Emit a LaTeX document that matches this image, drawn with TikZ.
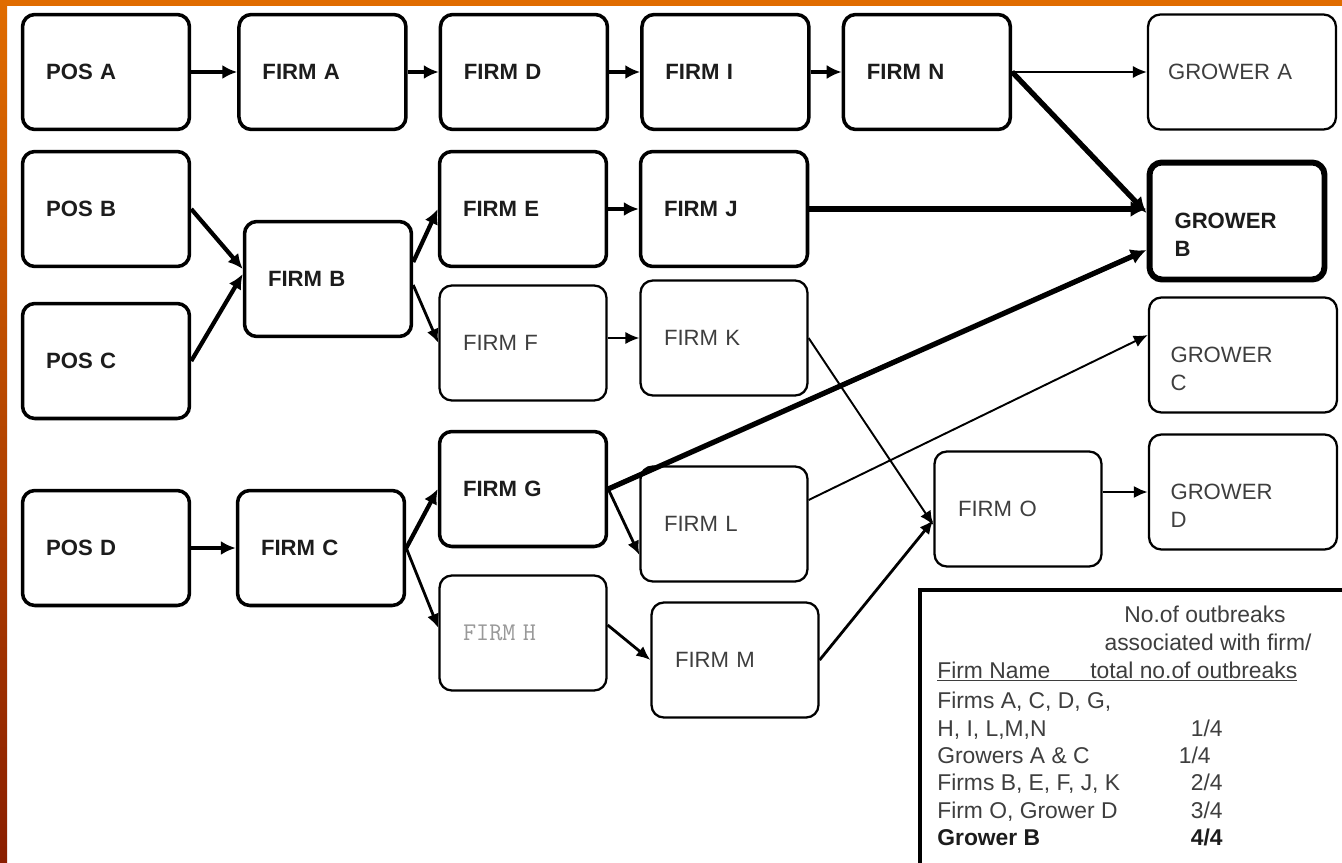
\documentclass[tikz,border=0pt]{standalone}
\usepackage{fontspec}
\setmainfont{Liberation Sans}
\usetikzlibrary{positioning,arrows.meta}
\definecolor{bandorange}{RGB}{224,108,0}
\definecolor{bandred}{RGB}{138,30,0}
\definecolor{boldtxt}{RGB}{28,28,28}
\definecolor{thintxt}{RGB}{62,62,62}
\begin{document}
\begin{tikzpicture}[x=0.02cm, y=-0.02cm, font=\fontsize{12.6}{16}\selectfont,
  main/.style = {draw, rounded corners=7pt, minimum width=3.34cm, minimum height=2.3cm, text width=2.4cm, align=left},
  heavy/.style = {main, line width=2pt, font=\fontsize{12.6}{16}\selectfont\bfseries, text=boldtxt},
  light/.style = {main, line width=1.3pt, text=thintxt},
  best/.style = {heavy, line width=3.4pt, minimum width=3.5cm, minimum height=2.34cm, text width=2.5cm},
  growerbox/.style = {light, minimum width=3.76cm, text width=2.9cm},
  link/.style = {-{Latex[length=8pt,width=7pt]}, line width=1.1pt},
  midlink/.style = {-{Latex[length=8pt,width=7pt]}, line width=1.6pt},
  strong/.style = {-{Latex[length=8.5pt,width=8pt]}, line width=2.4pt},
  fat/.style = {-{Latex[length=9pt,width=9pt]}, line width=3pt},
  legtxt/.style = {anchor=base west, inner sep=0pt, text=thintxt, font=\fontsize{13}{16}\selectfont}]
\useasboundingbox (0,0) rectangle (1342,862);
\fill[white] (0,0) rectangle (1342,862);
\fill[bandorange] (0,0) rectangle (1342,6);
\shade[top color=bandorange, bottom color=bandred] (0,0) rectangle (7,862);

\node[heavy] (posA) at (106,72) {POS A};
\node[heavy] (firmA) [right=0.92cm of posA] {FIRM A};
\node[heavy] (firmD) [right=0.62cm of firmA] {FIRM D};
\node[heavy] (firmI) [right=0.62cm of firmD] {FIRM I};
\node[heavy] (firmN) [right=0.62cm of firmI] {FIRM N};
\node[growerbox, text width=2.96cm] (growA) at (1242,72) {GROWER A};

\node[heavy] (posB) at (106,209) {POS B};
\node[heavy] (firmB) at (328,279) {FIRM B};
\node[heavy] (posC) at (106,361) {POS C};
\node[heavy] (firmE) at (523,209) {FIRM E};
\node[heavy] (firmJ) at (724,209) {FIRM J};
\node[best] (growB) at (1237,221) {\rule{0pt}{0.85cm}GROWER\\B};

\node[light] (firmF) at (523,343) {FIRM F};
\node[light] (firmK) at (724,338) {FIRM K};
\node[growerbox] (growC) at (1243,355) {\rule{0pt}{0.85cm}GROWER\\C};

\node[heavy] (firmG) at (523,489) {FIRM G};
\node[light] (firmL) at (724,524) {FIRM L};
\node[light] (firmO) at (1018,509) {FIRM O};
\node[growerbox] (growD) at (1243,492) {\rule{0pt}{0.85cm}GROWER\\D};

\node[heavy] (posD) at (106,548) {POS D};
\node[heavy] (firmC) at (321,548) {FIRM C};
\node[light, text=black!40] (firmH) at (523,633) {\fontsize{14.5}{16}\selectfont\ttfamily FIRM H};
\node[light] (firmM) at (735,660) {FIRM M};

\draw[strong] (posA) -- (firmA);
\draw[strong] (firmA) -- (firmD);
\draw[strong] (firmD) -- (firmI);
\draw[strong] (firmI) -- (firmN);
\draw[link] (firmN.east) -- (firmN.east -| growA.west);
\draw[fat] (firmN.east) -- ([yshift=0.16cm]growB.west);
\draw[strong] (posB.east) -- ([yshift=0.2cm]firmB.west);
\draw[strong] (posC.east) -- ([yshift=0.1cm]firmB.west);
\draw[strong] ([yshift=0.34cm]firmB.east) -- (firmE.west);
\draw[midlink] ([yshift=-0.12cm]firmB.east) -- (firmF.west);
\draw[strong] (firmE) -- (firmJ);
\draw[fat] (firmJ.east) -- (firmJ.east -| growB.west);
\draw[link] (firmF.east |- firmK.west) -- (firmK.west);
\draw[link] (firmK.east) -- ([yshift=-0.32cm]firmO.west);
\draw[link] ([yshift=0.48cm]firmL.east) -- ([yshift=0.4cm]growC.west);
\draw[fat] (firmG.east) -- ([yshift=-0.58cm]growB.west);
\draw[midlink] (firmO.east |- growD.west) -- (growD.west);
\draw[strong] (posD) -- (firmC);
\draw[strong] (firmC.east) -- (firmG.west);
\draw[midlink] (firmC.east) -- ([yshift=0.1cm]firmH.west);
\draw[midlink] (firmG.east) -- ([yshift=-0.62cm]firmL.west);
\draw[midlink] ([yshift=0.16cm]firmH.east) -- (firmM.west);
\draw[midlink] (firmM.east) -- ([yshift=-0.22cm]firmO.west);

\node[draw, line width=2pt, anchor=north west, minimum width=8.6cm, minimum height=5.62cm] (legend) at (918,588) {};
\node[legtxt, anchor=base] (headA) at (1205,622) {No.of outbreaks};
\node[legtxt, anchor=base] (headB) at (1208,650) {associated with firm/};
\node[legtxt] (headC) at (937,678) {\underline{Firm Name\hspace{0.8cm}total no.of outbreaks}};
\node[legtxt] (rowA) at (937,708) {Firms A, C, D, G,};
\node[legtxt] (rowB) at (937,736) {H, I, L,M,N};
\node[legtxt] (rowC) at (937,763) {Growers A \& C};
\node[legtxt] (rowD) at (937,790) {Firms B, E, F, J, K};
\node[legtxt] (rowE) at (937,818) {Firm O, Grower D};
\node[legtxt, font=\fontsize{13}{16}\selectfont\bfseries, text=boldtxt] (rowF) at (937,845) {Grower B};
\node[legtxt, anchor=base east] (valB) at (1223,736) {1/4};
\node[legtxt, anchor=base east] (valC) at (1211,763) {1/4};
\node[legtxt, anchor=base east] (valD) at (1223,790) {2/4};
\node[legtxt, anchor=base east] (valE) at (1223,818) {3/4};
\node[legtxt, anchor=base east, font=\fontsize{13}{16}\selectfont\bfseries, text=boldtxt] (valF) at (1223,845) {4/4};
\end{tikzpicture}
\end{document}
